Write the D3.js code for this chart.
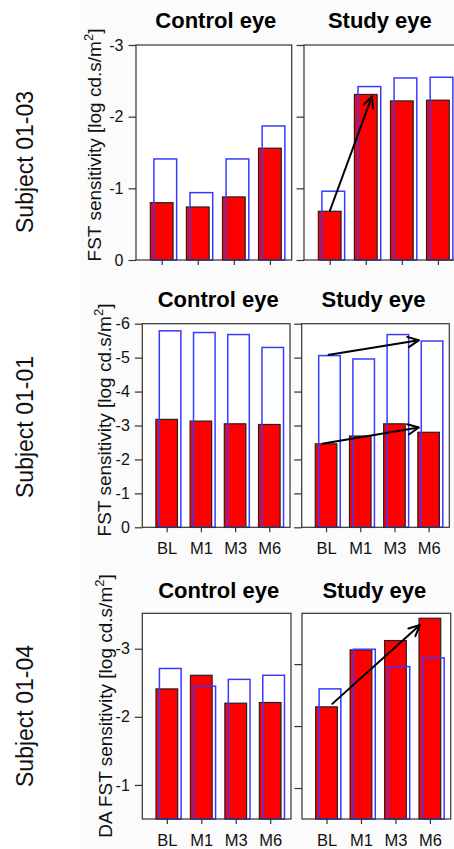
<!DOCTYPE html>
<html>
<head>
<meta charset="utf-8">
<script src="https://cdn.jsdelivr.net/npm/d3@7"></script>
<style>
  body { margin: 0; background: #fff; }
  svg { display: block; font-family: "Liberation Sans", Arial, sans-serif; }
</style>
</head>
<body>
<svg id="chart" width="454" height="849"></svg>
<script>
// Categories and labels
const timepoints = ["BL", "M1", "M3", "M6"];
const subjects = ["Subject 01-03", "Subject 01-01", "Subject 01-04"];
const eyes = ["Control eye", "Study eye"];
const yTitles = ["FST sensitivity [log cd.s/m", "FST sensitivity [log cd.s/m", "DA FST sensitivity [log cd.s/m"];

// Filled (red) and outlined (blue) bars, per subject: [control eye, study eye]
const red0103 = [[-0.80, -0.74, -0.88, -1.56], [-0.68, -2.31, -2.22, -2.23]];
const blue0103 = [[-1.41, -0.94, -1.41, -1.87], [-0.96, -2.42, -2.54, -2.55]];
const red0101 = [[-3.18, -3.13, -3.05, -3.03], [-2.46, -2.69, -3.05, -2.80]];
const blue0101 = [[-5.79, -5.74, -5.68, -5.30], [-5.06, -4.96, -5.68, -5.49]];
const red0104 = [[-2.41, -2.61, -2.20, -2.21], [-2.31, -3.23, -3.38, -3.74]];
const blue0104 = [[-2.71, -2.45, -2.55, -2.61], [-2.60, -3.24, -2.96, -3.10]];

// Axis domains and ticks, per subject: [control eye, study eye]
const yDomains = [[[0, -3], [0, -3]], [[0, -6], [0, -6]], [[-0.5, -3.52], [-0.5, -3.82]]];
const yTicks = [[0, -1, -2, -3], [0, -1, -2, -3, -4, -5, -6], [-1, -2, -3]];

// Arrows in the study eye (x in timepoint index units)
const arrows0103 = [{ x0: 0, y0: -0.68, x1: 1.17, y1: -2.28 }];
const arrows0101 = [
  { x0: 0.05, y0: -5.08, x1: 2.71, y1: -5.51 },
  { x0: -0.12, y0: -2.46, x1: 2.71, y1: -2.94 },
];
const arrows0104 = [{ x0: 0.15, y0: -2.35, x1: 2.71, y1: -3.63 }];

const redBars = [red0103, red0101, red0104];
const blueBars = [blue0103, blue0101, blue0104];
const arrowSets = [arrows0103, arrows0101, arrows0104];
const showXLabels = [false, true, true];

// Page layout for each row of panels
const layout = [
  { top: 45, bottom: 260, plots: [[136, 291.7], [304, 459.7]], titleY: 28, yTitleX: 101, yTitleY: 145, subjY: 162 },
  { top: 323.7, bottom: 527.3, plots: [[142.3, 290], [301.7, 449.3]], titleY: 306.7, yTitleX: 110.6, yTitleY: 420, subjY: 427 },
  { top: 613.3, bottom: 819, plots: [[142.3, 291], [302, 450.7]], titleY: 598.3, yTitleX: 112, yTitleY: 706, subjY: 716 },
];

const svg = d3.select("#chart");

svg.append("rect")
  .attr("x", 80).attr("y", 0)
  .attr("width", 374).attr("height", 849)
  .attr("fill", "#fbfbfb");

const drawArrow = (g, xa, ya, xb, yb) => {
  g.append("line")
    .attr("x1", xa).attr("y1", ya).attr("x2", xb).attr("y2", yb)
    .attr("stroke", "#000").attr("stroke-width", 2);
  const ang = Math.atan2(yb - ya, xb - xa);
  const len = 12, spread = Math.PI / 7;
  [ang + spread, ang - spread].forEach((a) => {
    g.append("line")
      .attr("x1", xb).attr("y1", yb)
      .attr("x2", xb - len * Math.cos(a)).attr("y2", yb - len * Math.sin(a))
      .attr("stroke", "#000").attr("stroke-width", 2)
      .attr("stroke-linecap", "round");
  });
};

subjects.forEach((subject, row) => {
  const L = layout[row];

  // Subject label
  svg.append("text")
    .attr("transform", `translate(33,${L.subjY}) rotate(-90)`)
    .attr("text-anchor", "middle")
    .attr("font-size", 23)
    .attr("fill", "#111")
    .text(subject);

  // Y axis title with superscript
  const yt = svg.append("text")
    .attr("transform", `translate(${L.yTitleX},${L.yTitleY}) rotate(-90)`)
    .attr("text-anchor", "middle")
    .attr("font-size", 19)
    .attr("fill", "#111");
  yt.append("tspan").text(yTitles[row]);
  yt.append("tspan").attr("font-size", 13).attr("dy", -8).text("2");
  yt.append("tspan").attr("dy", 8).text("]");

  eyes.forEach((eye, col) => {
    const [x0, x1] = L.plots[col];
    const w = x1 - x0;

    const x = d3.scalePoint()
      .domain(timepoints)
      .range([x0 + 0.165 * w, x1 - 0.14 * w]);
    const step = x.step();
    const xi = d3.scaleLinear().domain([0, timepoints.length - 1]).range(x.range());

    const y = d3.scaleLinear()
      .domain(yDomains[row][col])
      .range([L.bottom, L.top]);

    const g = svg.append("g");
    const barW = 0.63 * step;
    const base = y(yDomains[row][col][0]);

    // Plot background
    g.append("rect")
      .attr("x", x0).attr("y", L.top)
      .attr("width", w).attr("height", L.bottom - L.top)
      .attr("fill", "#fff");

    // Red filled bars
    g.selectAll(".red")
      .data(redBars[row][col])
      .enter()
      .append("rect")
      .attr("class", "red")
      .attr("x", (d, i) => x(timepoints[i]) - barW / 2)
      .attr("y", (d) => y(d))
      .attr("width", barW)
      .attr("height", (d) => base - y(d))
      .attr("fill", "#ff0000")
      .attr("stroke", "#222")
      .attr("stroke-width", 1.2);

    // Blue outlined bars
    g.selectAll(".blue")
      .data(blueBars[row][col])
      .enter()
      .append("rect")
      .attr("class", "blue")
      .attr("x", (d, i) => x(timepoints[i]) - barW / 2 + 0.1 * step)
      .attr("y", (d) => y(d))
      .attr("width", barW)
      .attr("height", (d) => base - y(d))
      .attr("fill", "none")
      .attr("stroke", "#3a3aff")
      .attr("stroke-width", 1.5);

    // Arrows in the study eye
    if (col === 1) {
      arrowSets[row].forEach((a) =>
        drawArrow(g, xi(a.x0), y(a.y0), xi(a.x1), y(a.y1))
      );
    }

    // Frame
    g.append("rect")
      .attr("x", x0).attr("y", L.top)
      .attr("width", w).attr("height", L.bottom - L.top)
      .attr("fill", "none")
      .attr("stroke", "#333")
      .attr("stroke-width", 1.2);

    // Y axis
    const yAxis = d3.axisLeft(y)
      .tickValues(yTicks[row])
      .tickSize(7.5)
      .tickPadding(5)
      .tickFormat(col === 0 ? d3.format("d") : "");
    const ya = g.append("g")
      .attr("transform", `translate(${x0},0)`)
      .call(yAxis);
    ya.select(".domain").remove();
    ya.selectAll("line").attr("stroke", "#333").attr("stroke-width", 1.2);
    ya.selectAll("text")
      .attr("font-size", 16)
      .attr("font-family", "Liberation Sans, Arial, sans-serif")
      .attr("fill", "#111")
      .text((d) => (col === 0 ? (d === 0 ? "0" : "-" + Math.abs(d)) : ""));

    // X axis
    const xAxis = d3.axisBottom(x)
      .tickSize(5)
      .tickPadding(10)
      .tickFormat(showXLabels[row] ? (d) => d : "");
    const xa = g.append("g")
      .attr("transform", `translate(0,${L.bottom})`)
      .call(xAxis);
    xa.select(".domain").remove();
    xa.selectAll("line").attr("stroke", "#333").attr("stroke-width", 1.2);
    xa.selectAll("text")
      .attr("font-size", 16.5)
      .attr("font-family", "Liberation Sans, Arial, sans-serif")
      .attr("fill", "#111");

    // Panel title
    svg.append("text")
      .attr("x", x0 + w / 2 + (col === 0 ? 2 : -2))
      .attr("y", L.titleY)
      .attr("text-anchor", "middle")
      .attr("font-size", 22)
      .attr("font-weight", "bold")
      .attr("fill", "#000")
      .text(eye);
  });
});
</script>
</body>
</html>
